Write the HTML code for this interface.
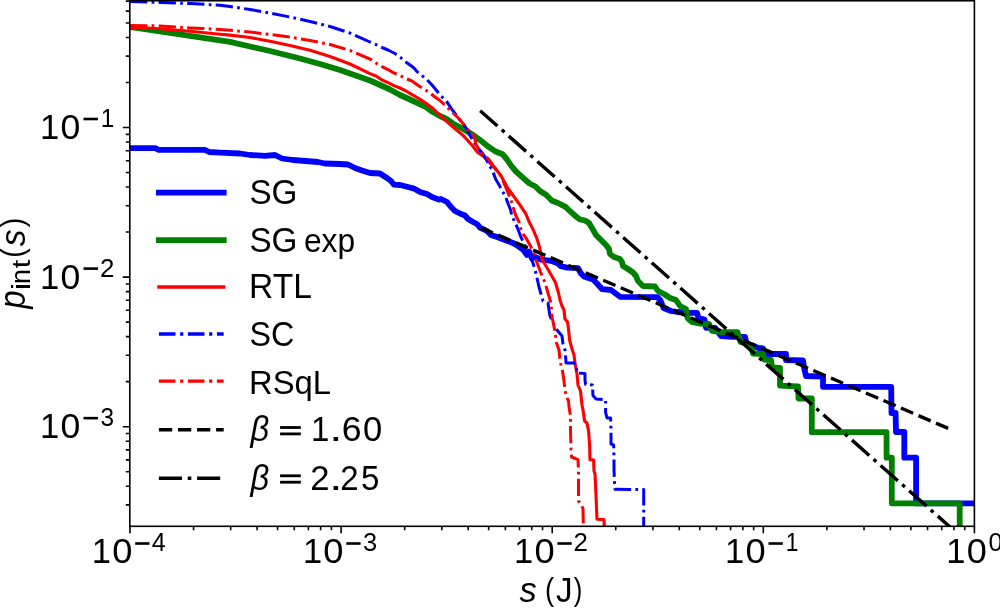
<!DOCTYPE html><html><head><meta charset="utf-8"><style>html,body{margin:0;padding:0;background:#fff;overflow:hidden;}svg{display:block;will-change:transform;}text{font-family:"Liberation Sans",sans-serif;}</style></head><body>
<svg width="1000" height="609" viewBox="0 0 1000 609">
<rect width="1000" height="609" fill="#fff"/>
<defs><clipPath id="ax"><rect x="129.8" y="0.75" width="844.5999999999999" height="525.55"/></clipPath></defs>
<g clip-path="url(#ax)" fill="none" stroke-linejoin="round">
<path d="M128.0,148.2 L155.3,148.2 L158.6,149.8 L204.8,149.8 L209.2,152.0 L220.0,152.6 L240.0,153.5 L250.0,155.0 L265.0,155.8 L275.0,155.0 L282.0,158.5 L293.0,160.0 L318.0,162.0 L325.0,163.5 L340.0,164.0 L348.0,164.5 L355.0,168.0 L362.0,170.5 L370.0,173.0 L380.0,173.5 L387.0,178.0 L391.0,181.0 L394.0,184.6 L400.0,185.0 L408.0,187.0 L414.0,188.6 L420.0,192.0 L427.0,194.0 L432.0,197.0 L439.0,199.6 L441.0,199.0 L447.0,202.0 L451.0,207.0 L455.0,211.0 L461.0,214.0 L465.0,215.5 L468.0,219.0 L473.0,222.0 L477.0,224.0 L480.0,227.6 L487.0,231.0 L491.0,235.0 L497.0,237.0 L505.0,240.0 L513.0,243.0 L518.0,246.0 L523.0,249.5 L527.0,255.0 L529.0,251.5 L532.0,258.5 L535.0,257.0 L541.0,259.7 L551.0,260.8 L557.7,263.4 L561.0,266.2 L567.0,267.6 L578.0,268.2 L581.0,273.5 L584.0,276.5 L593.0,279.5 L597.5,284.0 L602.0,289.2 L611.0,290.0 L617.0,294.5 L620.0,296.8 L657.5,297.2 L660.5,300.5 L663.5,308.0 L671.0,311.0 L677.5,312.0 L689.5,312.8 L697.0,312.8 L698.5,318.0 L704.5,319.5 L706.0,327.8 L715.0,327.8 L721.0,336.0 L733.0,336.8 L745.0,336.8 L746.5,343.5 L758.5,348.0 L763.0,348.3 L764.0,354.0 L786.0,354.0 L786.0,360.0 L803.0,360.5 L804.0,367.0 L806.0,376.0 L823.0,376.6 L823.0,386.8 L891.2,386.9 L891.5,413.0 L895.6,413.0 L896.0,432.0 L904.3,432.0 L904.3,457.7 L916.1,457.7 L916.1,503.4 L985.0,503.4" stroke="#0000ff" stroke-width="5.8" stroke-linecap="square"/>
<path d="M128.0,26.7 L160.0,31.4 L190.0,35.9 L220.0,40.4 L230.0,41.9 L250.0,46.5 L270.0,51.0 L290.0,56.0 L300.0,58.5 L320.0,64.0 L340.0,70.0 L360.0,77.0 L370.0,80.5 L380.0,85.0 L390.0,89.5 L400.0,95.0 L410.0,99.5 L425.0,106.5 L432.5,111.8 L440.0,116.0 L447.5,119.5 L455.0,124.8 L463.0,128.9 L471.1,133.7 L479.1,139.3 L487.2,145.8 L495.0,151.2 L502.5,154.2 L507.0,159.5 L511.5,166.2 L516.0,171.5 L522.0,176.8 L529.5,183.5 L535.5,186.5 L540.0,191.0 L546.0,194.8 L552.0,200.8 L558.0,203.0 L565.5,206.8 L570.0,211.2 L576.0,216.5 L580.0,219.5 L585.0,220.5 L589.0,223.0 L592.0,228.0 L596.0,235.0 L601.0,240.0 L606.0,245.0 L609.0,249.0 L610.0,254.0 L614.0,257.0 L620.0,259.0 L622.0,262.0 L623.0,266.0 L628.0,269.0 L633.0,272.5 L636.0,276.0 L638.0,281.0 L643.0,286.0 L655.0,286.5 L658.0,291.0 L664.0,294.0 L670.0,298.0 L676.0,300.0 L680.0,306.0 L686.0,309.0 L687.6,318.0 L692.0,322.0 L700.0,323.6 L709.0,324.0 L712.0,330.8 L722.5,332.2 L737.5,332.2 L740.5,342.0 L751.0,345.0 L753.0,353.5 L763.0,354.0 L764.0,359.5 L771.0,360.0 L772.0,367.5 L780.0,368.0 L780.0,385.6 L798.0,386.5 L798.5,398.5 L811.8,398.5 L811.8,432.2 L886.5,432.2 L886.6,457.7 L891.8,457.7 L891.8,503.3 L959.7,503.3 L959.7,535.0" stroke="#008000" stroke-width="5.8" stroke-linecap="square"/>
<path d="M130.0,27.2 L160.0,28.7 L190.0,31.2 L220.0,34.2 L230.0,35.1 L250.0,37.5 L270.0,41.3 L290.0,45.6 L310.0,50.3 L330.0,56.5 L350.0,64.0 L370.0,73.6 L376.0,76.0 L382.0,80.0 L388.0,82.6 L394.0,85.6 L400.0,88.0 L406.0,91.0 L412.0,94.6 L418.0,98.0 L422.0,100.6 L432.5,108.0 L440.0,115.5 L447.5,122.2 L455.0,128.9 L463.0,135.3 L471.1,144.1 L477.5,152.2 L483.2,156.2 L489.6,162.7 L495.2,168.3 L500.8,175.5 L507.3,187.3 L513.9,196.5 L520.4,205.7 L525.7,213.6 L529.6,222.8 L533.6,230.6 L536.9,238.5 L539.5,247.0 L542.0,259.0 L543.5,262.0 L549.5,272.0 L555.5,282.5 L558.5,293.0 L560.0,300.0 L562.0,306.0 L564.0,310.0 L565.0,319.0 L567.6,322.0 L568.6,330.0 L569.6,340.0 L572.0,349.0 L574.0,355.0 L575.0,363.0 L577.0,374.0 L578.0,385.0 L580.5,391.0 L582.0,405.0 L583.0,410.0 L584.6,421.0 L587.0,423.0 L588.6,431.0 L589.6,445.0 L590.0,459.6 L593.6,460.0 L594.0,471.0 L595.0,474.0 L596.0,495.0 L597.0,519.3 L604.0,519.6 L604.6,535.0" stroke="#ff0000" stroke-width="3.1" stroke-linecap="square"/>
<path d="M130.0,1.5 L160.0,2.4 L190.0,3.5 L220.0,5.3 L230.0,6.5 L250.0,9.5 L270.0,13.0 L290.0,17.0 L310.0,21.5 L330.0,26.5 L350.0,33.0 L370.0,42.0 L376.0,44.5 L382.0,47.5 L388.0,50.0 L395.0,53.5 L400.6,57.5 L405.0,61.5 L410.0,65.0 L414.0,68.0 L417.0,71.6 L422.0,75.6 L427.0,79.6 L432.0,85.0 L437.0,91.0 L441.0,96.0 L446.0,100.5 L452.0,109.5 L457.0,116.0 L462.2,122.4 L467.1,129.7 L470.3,136.1 L473.5,141.7 L477.5,147.4 L481.6,152.2 L485.6,157.8 L488.9,165.0 L492.3,170.0 L495.7,179.2 L499.2,185.0 L501.5,190.1 L505.0,195.3 L508.4,204.5 L510.7,210.2 L511.8,216.0 L515.3,222.9 L518.2,229.8 L520.5,236.1 L523.5,242.5 L528.0,252.0 L533.0,263.0 L536.0,273.5 L539.0,287.0 L542.0,297.5 L543.0,301.0 L548.0,303.0 L549.0,310.0 L550.0,316.0 L553.0,323.0 L557.0,330.0 L562.0,336.0 L563.0,344.0 L565.0,350.0 L565.6,357.0 L566.0,363.0 L574.0,363.0 L576.0,365.0 L577.0,373.0 L585.0,373.5 L585.0,380.0 L585.6,384.6 L592.6,385.0 L592.6,389.0 L593.0,395.6 L596.0,399.0 L605.6,399.6 L605.6,412.5 L607.0,418.0 L610.6,418.0 L611.0,430.0 L611.0,444.0 L613.6,445.0 L614.0,457.0 L614.0,470.0 L614.6,485.0 L615.0,489.3 L643.7,489.5 L643.7,535.0" stroke="#0000ff" stroke-width="3.0" stroke-linecap="butt" stroke-dasharray="17.3 4.3 2.7 4.3"/>
<path d="M130.0,25.4 L160.0,25.9 L190.0,27.9 L220.0,29.4 L230.0,30.3 L250.0,32.0 L270.0,34.5 L290.0,37.0 L310.0,40.5 L330.0,44.5 L350.0,50.5 L370.0,59.0 L375.0,62.5 L382.0,66.6 L388.0,69.6 L394.0,73.0 L400.0,75.6 L406.0,78.6 L412.0,81.0 L419.0,86.0 L425.0,89.6 L430.0,93.0 L435.0,97.0 L440.0,100.5 L446.0,106.0 L452.0,112.0 L458.2,118.0 L465.5,126.4 L469.5,132.1 L474.3,136.1 L475.1,140.1 L475.9,144.1 L479.1,149.8 L483.2,154.6 L487.2,157.8 L489.6,160.2 L492.8,165.1 L496.0,169.5 L500.8,175.5 L507.2,190.7 L509.5,196.4 L512.0,203.0 L514.0,210.0 L516.0,216.0 L519.0,222.0 L521.0,230.0 L523.0,234.0 L526.0,238.0 L530.0,245.0 L534.5,254.5 L536.0,260.0 L540.5,272.0 L545.0,282.5 L548.0,293.0 L551.0,303.0 L552.0,317.0 L553.5,324.0 L555.0,332.0 L556.5,343.0 L559.0,350.0 L560.0,360.0 L561.0,365.0 L562.5,371.0 L564.0,381.0 L565.0,390.0 L566.5,397.0 L568.5,401.0 L569.0,407.0 L570.5,416.0 L570.5,430.0 L571.0,450.0 L571.5,457.0 L578.0,459.6 L578.5,471.0 L578.5,501.0 L581.5,504.6 L583.0,509.0 L583.5,535.0" stroke="#ff0000" stroke-width="3.0" stroke-linecap="butt" stroke-dasharray="17.3 4.3 2.7 4.3"/>
<path d="M480.6,227.6 L949.5,428.9" stroke="#000" stroke-width="3.4" stroke-linecap="butt" stroke-dasharray="13.3 5.76"/>
<path d="M479.6,110.2 L960.0,535.8" stroke="#000" stroke-width="3.4" stroke-linecap="butt" stroke-dasharray="23.05 5.78 3.6 5.78" stroke-dashoffset="-0.8"/>
</g>
<rect x="129.8" y="0.75" width="844.5999999999999" height="525.55" fill="none" stroke="#000" stroke-width="1.6"/>
<path d="M130.00,526.3 v7 M193.55,526.3 v4 M230.72,526.3 v4 M257.09,526.3 v4 M277.55,526.3 v4 M294.27,526.3 v4 M308.40,526.3 v4 M320.64,526.3 v4 M331.44,526.3 v4 M341.10,526.3 v7 M404.65,526.3 v4 M441.82,526.3 v4 M468.19,526.3 v4 M488.65,526.3 v4 M505.37,526.3 v4 M519.50,526.3 v4 M531.74,526.3 v4 M542.54,526.3 v4 M552.20,526.3 v7 M615.75,526.3 v4 M652.92,526.3 v4 M679.29,526.3 v4 M699.75,526.3 v4 M716.47,526.3 v4 M730.60,526.3 v4 M742.84,526.3 v4 M753.64,526.3 v4 M763.30,526.3 v7 M826.85,526.3 v4 M864.02,526.3 v4 M890.39,526.3 v4 M910.85,526.3 v4 M927.57,526.3 v4 M941.70,526.3 v4 M953.94,526.3 v4 M964.74,526.3 v4 M974.40,526.3 v7 M129.8,504.89 h-4 M129.8,486.20 h-4 M129.8,471.71 h-4 M129.8,459.86 h-4 M129.8,449.85 h-4 M129.8,441.18 h-4 M129.8,433.52 h-4 M129.8,426.68 h-7 M129.8,381.65 h-4 M129.8,355.31 h-4 M129.8,336.62 h-4 M129.8,322.13 h-4 M129.8,310.28 h-4 M129.8,300.27 h-4 M129.8,291.60 h-4 M129.8,283.94 h-4 M129.8,277.10 h-7 M129.8,232.07 h-4 M129.8,205.73 h-4 M129.8,187.04 h-4 M129.8,172.55 h-4 M129.8,160.70 h-4 M129.8,150.69 h-4 M129.8,142.02 h-4 M129.8,134.36 h-4 M129.8,127.52 h-7 M129.8,82.49 h-4 M129.8,56.15 h-4 M129.8,37.46 h-4 M129.8,22.97 h-4 M129.8,11.12 h-4 M129.8,1.11 h-4" stroke="#000" stroke-width="1.6" fill="none"/>
<text font-size="100" transform="matrix(0.34451 0 0 0.35600 91.82 563.30)" fill="#000">1</text>
<text font-size="100" transform="matrix(0.36230 0 0 0.35600 112.25 563.30)" fill="#000">0</text>
<rect x="135.20" y="542.20" width="14.30" height="2.6"/>
<text font-size="100" transform="matrix(0.25149 0 0 0.25300 151.73 551.00)" fill="#000">4</text>
<text font-size="100" transform="matrix(0.34451 0 0 0.35600 302.92 563.30)" fill="#000">1</text>
<text font-size="100" transform="matrix(0.36230 0 0 0.35600 323.35 563.30)" fill="#000">0</text>
<rect x="346.30" y="542.20" width="14.30" height="2.6"/>
<text font-size="100" transform="matrix(0.25474 0 0 0.25300 363.04 551.00)" fill="#000">3</text>
<text font-size="100" transform="matrix(0.34451 0 0 0.35600 514.02 563.30)" fill="#000">1</text>
<text font-size="100" transform="matrix(0.36230 0 0 0.35600 534.45 563.30)" fill="#000">0</text>
<rect x="557.40" y="542.20" width="14.30" height="2.6"/>
<text font-size="100" transform="matrix(0.25934 0 0 0.25300 573.50 551.00)" fill="#000">2</text>
<text font-size="100" transform="matrix(0.34451 0 0 0.35600 725.12 563.30)" fill="#000">1</text>
<text font-size="100" transform="matrix(0.36230 0 0 0.35600 745.55 563.30)" fill="#000">0</text>
<rect x="768.50" y="542.20" width="14.30" height="2.6"/>
<text font-size="100" transform="matrix(0.22890 0 0 0.25300 785.78 551.00)" fill="#000">1</text>
<text font-size="100" transform="matrix(0.34451 0 0 0.35600 946.32 563.30)" fill="#000">1</text>
<text font-size="100" transform="matrix(0.36021 0 0 0.35600 966.76 563.30)" fill="#000">0</text>
<text font-size="100" transform="matrix(0.25550 0 0 0.25300 988.38 551.00)" fill="#000">0</text>
<text font-size="100" transform="matrix(0.34682 0 0 0.35600 39.90 139.30)" fill="#000">1</text>
<text font-size="100" transform="matrix(0.35602 0 0 0.35600 60.58 139.30)" fill="#000">0</text>
<rect x="83.50" y="117.70" width="14.50" height="2.6"/>
<text font-size="100" transform="matrix(0.24277 0 0 0.25300 100.68 126.90)" fill="#000">1</text>
<text font-size="100" transform="matrix(0.34682 0 0 0.35600 39.90 288.90)" fill="#000">1</text>
<text font-size="100" transform="matrix(0.35602 0 0 0.35600 60.58 288.90)" fill="#000">0</text>
<rect x="83.50" y="267.30" width="14.50" height="2.6"/>
<text font-size="100" transform="matrix(0.25934 0 0 0.25300 99.90 276.50)" fill="#000">2</text>
<text font-size="100" transform="matrix(0.34682 0 0 0.35600 39.90 438.45)" fill="#000">1</text>
<text font-size="100" transform="matrix(0.35602 0 0 0.35600 60.58 438.45)" fill="#000">0</text>
<rect x="83.50" y="416.85" width="14.50" height="2.6"/>
<text font-size="100" transform="matrix(0.24421 0 0 0.25300 100.48 426.05)" fill="#000">3</text>
<text font-size="100" transform="matrix(0.34346 0 0 0.35163 519.51 602.30)" font-style="italic" fill="#000">s</text>
<text font-size="100" transform="matrix(0.27429 0 0 0.30670 545.09 600.44)" fill="#000">(</text>
<text font-size="100" transform="matrix(0.33171 0 0 0.34473 555.90 602.30)" fill="#000">J</text>
<text font-size="100" transform="matrix(0.25905 0 0 0.30670 573.81 600.44)" fill="#000">)</text>
<g transform="rotate(-90)"><text font-size="100" transform="matrix(0.33091 0 0 0.36093 -308.87 25.30)" font-style="italic" fill="#000">p</text><text font-size="100" transform="matrix(0.34286 0 0 0.25103 -290.31 30.00)" fill="#000">i</text><text font-size="100" transform="matrix(0.26746 0 0 0.27349 -283.91 30.00)" fill="#000">n</text><text font-size="100" transform="matrix(0.30980 0 0 0.25116 -268.26 30.00)" fill="#000">t</text><text font-size="100" transform="matrix(0.28190 0 0 0.31850 -257.86 22.79)" fill="#000">(</text><text font-size="100" transform="matrix(0.33508 0 0 0.35535 -246.28 25.30)" font-style="italic" fill="#000">s</text><text font-size="100" transform="matrix(0.29714 0 0 0.31850 -227.52 22.79)" fill="#000">)</text></g>
<path d="M158.9,192.7 H223.7" stroke="#0000ff" stroke-width="5.8" stroke-linecap="square" fill="none"/>
<path d="M158.9,240.2 H223.7" stroke="#008000" stroke-width="5.8" stroke-linecap="square" fill="none"/>
<path d="M158.9,287.0 H223.7" stroke="#ff0000" stroke-width="3.3" stroke-linecap="square" fill="none"/>
<path d="M158.9,334.0 H223.7" stroke="#0000ff" stroke-width="3.3" stroke-linecap="butt" stroke-dasharray="16.6 4.6 3.2 4.6" fill="none"/>
<path d="M158.9,381.1 H223.7" stroke="#ff0000" stroke-width="3.3" stroke-linecap="butt" stroke-dasharray="16.6 4.6 3.2 4.6" fill="none"/>
<path d="M158.9,429.8 H223.7" stroke="#000" stroke-width="3.4" stroke-linecap="butt" stroke-dasharray="13.3 5.76" fill="none"/>
<path d="M158.9,478.2 H223.7" stroke="#000" stroke-width="3.4" stroke-linecap="butt" stroke-dasharray="23.05 5.78 3.6 5.78" fill="none"/>
<text font-size="100" transform="matrix(0.33283 0 0 0.34409 249.40 204.30)" fill="#000">SG</text>
<text font-size="100" transform="matrix(0.33283 0 0 0.34839 249.40 251.60)" fill="#000">SG</text>
<text font-size="100" transform="matrix(0.31751 0 0 0.33488 303.95 251.60)" fill="#000">exp</text>
<text font-size="100" transform="matrix(0.33618 0 0 0.34473 249.03 298.40)" fill="#000">RTL</text>
<text font-size="100" transform="matrix(0.32261 0 0 0.34552 249.55 346.00)" fill="#000">SC</text>
<text font-size="100" transform="matrix(0.32788 0 0 0.33118 249.09 393.50)" fill="#000">RSqL</text>
<text font-size="100" transform="matrix(0.32751 0 0 0.35172 250.57 441.20)" font-style="italic" fill="#000">β</text>
<rect x="280.1" y="426.10" width="20.7" height="2.8"/><rect x="280.1" y="432.50" width="20.7" height="2.8"/>
<text font-size="100" transform="matrix(0.32948 0 0 0.34909 311.03 441.20)" fill="#000">1</text>
<text font-size="100" transform="matrix(0.47368 0 0 0.37209 329.37 441.20)" fill="#000">.</text>
<text font-size="100" transform="matrix(0.35676 0 0 0.34409 341.72 441.20)" fill="#000">6</text>
<text font-size="100" transform="matrix(0.34555 0 0 0.34409 363.12 441.20)" fill="#000">0</text>
<text font-size="100" transform="matrix(0.32751 0 0 0.35172 250.57 489.50)" font-style="italic" fill="#000">β</text>
<rect x="280.1" y="474.40" width="20.7" height="2.8"/><rect x="280.1" y="480.80" width="20.7" height="2.8"/>
<text font-size="100" transform="matrix(0.34615 0 0 0.34409 310.27 489.50)" fill="#000">2</text>
<text font-size="100" transform="matrix(0.47368 0 0 0.37209 329.37 489.50)" fill="#000">.</text>
<text font-size="100" transform="matrix(0.32967 0 0 0.34409 340.35 489.50)" fill="#000">2</text>
<text font-size="100" transform="matrix(0.33158 0 0 0.34909 360.92 489.50)" fill="#000">5</text>
</svg></body></html>
